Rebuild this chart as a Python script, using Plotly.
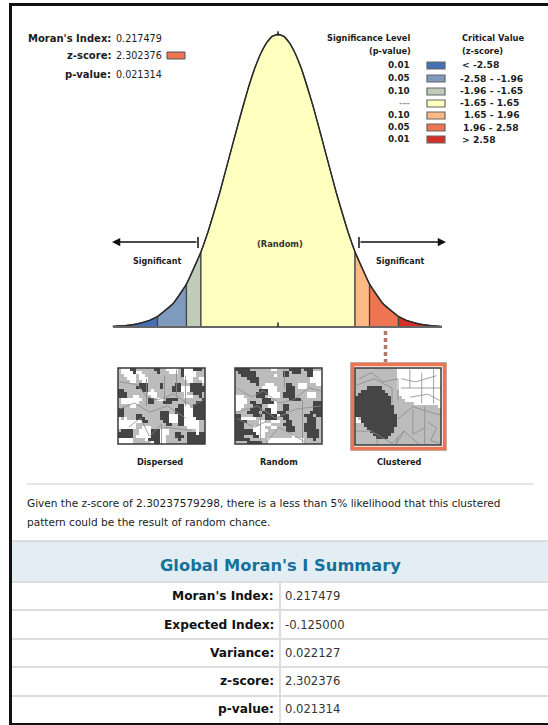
import plotly.graph_objects as go

W, H = 548, 725

# z-score and normal curve height
z_points = [-3.53, -3.25, -3.0, -2.75, -2.58, -2.25, -1.96, -1.65, -1.5, -1.25, -1.0, -0.875, -0.75, -0.625, -0.5, -0.375, -0.25, -0.125, 0.0,
            0.125, 0.25, 0.375, 0.5, 0.625, 0.75, 0.875, 1.0, 1.25, 1.5, 1.65, 1.96, 2.25, 2.58, 2.75, 3.0, 3.25, 3.51]
density = [0.0008, 0.002, 0.0044, 0.0091, 0.0143, 0.0317, 0.0584, 0.1023, 0.1295, 0.1826, 0.242, 0.272, 0.3011, 0.328, 0.3521, 0.372, 0.3867, 0.396, 0.3989,
           0.396, 0.3867, 0.372, 0.3521, 0.328, 0.3011, 0.272, 0.242, 0.1826, 0.1295, 0.1023, 0.0584, 0.0317, 0.0143, 0.0091, 0.0044, 0.002, 0.0008]

band_edges = [-3.53, -2.58, -1.96, -1.65, 1.65, 1.96, 2.58, 3.51]
band_colors = ["#4472b4", "#7f9abd", "#bfccb9", "#ffffbf", "#fdb985", "#ee7551", "#d62f27"]

p_levels = ["0.01", "0.05", "0.10", "---", "0.10", "0.05", "0.01"]
z_ranges = ["< -2.58", "-2.58 - -1.96", "-1.96 - -1.65", "-1.65 - 1.65", "1.65 - 1.96", "1.96 - 2.58", "> 2.58"]

z_score = 2.302376

summary_labels = ["Moran's Index:", "Expected Index:", "Variance:", "z-score:", "p-value:"]
summary_values = ["0.217479", "-0.125000", "0.022127", "2.302376", "0.021314"]

map_titles = ["Dispersed", "Random", "Clustered"]

# thumbnails: . white, g grey, # dark
map_dispersed = [
    "g...##gggggg##gg....g#...###g",
    "g....#..ggggg#ggg...g#....ggg",
    "gg....g..gggggggggggg#....ggg",
    "ggg...g...gggggggggggg...gg..",
    "gggg..gg..ggggggggggggg..ggg.",
    "ggggggg###gggg#gggg##ggg####g",
    "gggggg####gggg#ggg###...#####",
    "##gggggg##g.gggggg###...#####",
    "###ggggggg...ggggggggg.gg###g",
    "###gg..gggg..ggggggggg...gg#g",
    "g.......gg##g..g####gggggggg#",
    "g......ggg##ggg###gggggggg###",
    "gggg..gggggggggggggg##..g####",
    "##ggggggggggggggggg###...####",
    "##gggggggggggg###gg###...####",
    "##gggg##gggggg###...##...####",
    ".g.ggg###ggggg###...##....###",
    "........##ggggg##...##.....gg",
    "......gggggggggg##gg##.....gg",
    "......gg...gggggggggggg....gg",
    "g####gg....###...ggggggggg.gg",
    "#####gg....###...gg##gg###.##",
    "#####g.....###..ggg###g######",
    ".....gggg.####..gggg#gg######",
    ".....gggggg.##..ggggggg######",
]
map_random = [
    "#####ggggggg..gggg####g###ggg",
    "g######ggggggggg##g###gg##...",
    "gg#####gggggg.gg##gggggg##...",
    "gggg####ggggggggggggggggg....",
    "ggggg###ggggggggggggggggg....",
    "ggggggg#gg...gggg##gg...ggg..",
    "ggggggggg.....ggg###g...ggggg",
    "gggggggg###...ggg###ggggggggg",
    "ggggggg####....g####gggg...gg",
    "...gggg###g....g####gggg...gg",
    "....ggggg###gggggg####ggggggg",
    "....g##gg####.gggggggggggg###",
    "...ggg###gg...gg##gggggggg###",
    "..ggg####g##..gg##gggggggg###",
    "gggg####g###..###gggggggg####",
    "##gggg###g####.###ggggg###g##",
    "##.....ggg####gg##gggggg###gg",
    "####gggg..gg...gg##ggggg###gg",
    "###ggggg....gggg###gggg####gg",
    "###ggg....gg..ggg###ggg####gg",
    "######.....gggggg###ggg#####g",
    "#######...gggggggggggggg####g",
    "###ggg##..ggggggggg.gggg####g",
    "#####gggggg............ggg#gg",
    "gggg#####gg............gggggg",
]
map_clustered = [
    "gggggggggggggg...............",
    "gggggggggggggg...............",
    "gggggggggggggg...............",
    "gggggggggggggg...............",
    "gggggggggggggg...............",
    "gggggggggggggg...............",
    "gggg#####ggggg...............",
    "gg########ggggg..............",
    "g##########gggg..............",
    "############gggg.............",
    "############ggggg............",
    "############gggggggg.........",
    "#############ggggggggggggggg.",
    "#############gggggggggggggggg",
    "#############gggggggggggggggg",
    "##############ggggggggggggggg",
    ".g############ggggggggggggggg",
    "..############ggggggggggggggg",
    "ggg###########ggggggggggggggg",
    "gggg#########gggggggggggggggg",
    "ggggg########gggggggggggggggg",
    "gggggg######ggggggggggggggggg",
    "ggggggg####gggggggggggggggggg",
    "ggggggggggggggggggggggggggggg",
    "ggggggggggggggggggggggggggggg",
]

# boundaries drawn over the thumbnails, in cell units
lines_dispersed = [
    ([0, 6, 9, 13, 18, 24, 28], [4, 5, 9, 10, 8, 12, 10]),
    ([0, 5, 10, 16, 22], [13, 11, 14, 12, 16]),
    ([9, 9, None, 15, 15, None, 19, 19, None, 22, 22], [3, 12, None, 2, 10, None, 0, 9, None, 2, 12]),
    ([3, 7, 10, 14, 14, None, 15, 24], [19, 16, 22, 18, 25, None, 19, 20]),
]
lines_random = [
    ([0, 5, 9, 14, 19, 24, 28], [6, 9, 7, 11, 10, 6, 7]),
    ([0, 7, 13, 20, 28], [14, 12, 16, 13, 12]),
    ([22, 22, None, 16, 16, None, 8, 8], [10, 25, None, 0, 6, None, 13, 24]),
    ([10, 14, 18, 23, None, 0, 6, 10], [24, 19, 21, 24, None, 16, 19, 17]),
]
lines_clustered = [
    ([1, 5, 9, 14, 14], [3, 1, 4, 3, 10]),
    ([0, 6, 12, 12], [5, 3, 6, 11]),
    ([15, 20, 27, None, 15, 29, None, 18, 24, 28], [3, 4, 2, None, 6, 6, None, 9, 8, 10]),
    ([18, 18, None, 22, 22, None, 23, 23, None, 26, 26], [0, 6, None, 1, 11, None, 12, 25, None, 0, 11]),
    ([14, 19, 22, 29, None, 19, 19, 23, None, 24, 27, 25, 28], [16, 12, 13, 15, None, 13, 21, 19, None, 17, 19, 23, 24]),
    ([0, 5, 12, 16, 22, None, 16, 13, 14, None, 7, 7], [20, 20, 24, 20, 25, None, 20, 25, 22, None, 22, 25]),
]


def xp(px):
    return px / W


def yp(py):
    return 1 - py / H


# curve axis: z = 0 sits at x = 278 px, 46.7 px per z unit; baseline at y = 327 px, 734 px per density unit
x_range = [-278 / 46.7, (W - 278) / 46.7]
y_range = [-(H - 327) / 734, 327 / 734]

fig = go.Figure()

# filled bands under the curve
for i, color in enumerate(band_colors):
    band_z = [z for z in z_points if band_edges[i] <= z <= band_edges[i + 1]]
    band_d = [d for z, d in zip(z_points, density) if band_edges[i] <= z <= band_edges[i + 1]]
    fig.add_trace(go.Scatter(x=[band_z[0]] + band_z + [band_z[-1]], y=[0] + band_d + [0],
                             fill="toself", fillcolor=color, mode="lines",
                             line=dict(color="#444444", width=1.2),
                             hoverinfo="skip", showlegend=False))

fig.add_trace(go.Scatter(x=z_points, y=density, mode="lines",
                         line=dict(color="#2a2a2a", width=1.4, shape="spline", smoothing=0.5),
                         hoverinfo="skip", showlegend=False))

# baseline, with small ticks at the centre
fig.add_trace(go.Scatter(x=[z_points[0], z_points[-1]], y=[0, 0], mode="lines",
                         line=dict(color="#666666", width=2), hoverinfo="skip", showlegend=False))
fig.add_trace(go.Scatter(x=[0, 0], y=[0, 0.006], mode="lines",
                         line=dict(color="#222222", width=1.5), hoverinfo="skip", showlegend=False))
fig.add_trace(go.Scatter(x=[0, 0], y=[0.3965, 0.403], mode="lines",
                         line=dict(color="#222222", width=1.5), hoverinfo="skip", showlegend=False))

shapes = []
annotations = []


def label(px, py, text, size=9, bold=False, anchor="left", color="#1c1c1c"):
    t = "<b>" + text + "</b>" if bold else text
    shift = {"left": -2, "right": 2, "center": 0}[anchor]
    annotations.append(dict(x=xp(px), y=yp(py), xref="paper", yref="paper", text=t, showarrow=False,
                            xanchor=anchor, yanchor="middle", xshift=shift,
                            font=dict(family="DejaVu Sans", size=size, color=color)))


def rect(x0, y0, x1, y1, fill, line_color=None, line_width=0):
    shapes.append(dict(type="rect", xref="paper", yref="paper", x0=xp(x0), x1=xp(x1), y0=yp(y0), y1=yp(y1),
                       fillcolor=fill, line=dict(color=line_color, width=line_width) if line_color else dict(width=0)))


def hline(x0, x1, py, color, width=1):
    shapes.append(dict(type="line", xref="paper", yref="paper", x0=xp(x0), x1=xp(x1), y0=yp(py), y1=yp(py),
                       line=dict(color=color, width=width)))


def vline(px, y0, y1, color, width=1):
    shapes.append(dict(type="line", xref="paper", yref="paper", x0=xp(px), x1=xp(px), y0=yp(y0), y1=yp(y1),
                       line=dict(color=color, width=width)))


# outer frame
rect(9, 3, W, 6, "#111111")
rect(9, 3, 12, H, "#111111")
rect(9, 723, W, H, "#111111")

# top left readout
readout_labels = ["Moran's Index:", "z-score:", "p-value:"]
readout_values = [summary_values[0], summary_values[3], summary_values[4]]
for lab, val, py in zip(readout_labels, readout_values, [38, 56, 75]):
    label(111, py, lab, size=10, bold=True, anchor="right")
    label(116, py, val, size=9.6)
rect(167, 52, 185, 59, band_colors[5], "#555555", 1)

# legend
label(410, 38, "Significance Level", size=8.2, bold=True, anchor="right")
label(411, 51, "(p-value)", size=8.2, bold=True, anchor="right")
label(462, 38, "Critical Value", size=8.3, bold=True)
label(462, 51, "(z-score)", size=8.3, bold=True)
legend_rows = [65, 78, 91, 103, 115, 127, 139]
range_left = [462, 460, 460, 460, 464, 463, 462]
for lev, rng, color, py, left in zip(p_levels, z_ranges, band_colors, legend_rows, range_left):
    label(410, py, lev, size=8.8, bold=True, anchor="right", color="#999999" if lev == "---" else "#1c1c1c")
    label(left, py, rng, size=9.2, bold=True)
    rect(427, py - 3, 445, py + 4, color, "#666666", 1.2)

# arrows and curve labels
annotations.append(dict(x=xp(112), y=yp(242), ax=86, ay=0, xref="paper", yref="paper", axref="pixel", ayref="pixel",
                        text="", showarrow=True, arrowhead=2, arrowsize=1.1, arrowwidth=1.5, arrowcolor="#111111"))
annotations.append(dict(x=xp(446), y=yp(242), ax=-87, ay=0, xref="paper", yref="paper", axref="pixel", ayref="pixel",
                        text="", showarrow=True, arrowhead=2, arrowsize=1.1, arrowwidth=1.5, arrowcolor="#111111"))
vline(198, 237, 248, "#111111", 1.5)
vline(359, 237, 248, "#111111", 1.5)
label(157, 261, "Significant", size=8, bold=True, anchor="center")
label(400, 261, "Significant", size=8, bold=True, anchor="center")
label(280, 244, "(Random)", size=8.3, bold=True, anchor="center", color="#333333")

# dotted drop line from the observed z-score
shapes.append(dict(type="line", xref="x", yref="paper", x0=z_score, x1=z_score, y0=yp(331), y1=yp(364),
                   line=dict(color="#b5766a", width=3.5, dash="4px,3px")))

# thumbnails as small heatmaps on their own axes
map_rows = [map_dispersed, map_random, map_clustered]
map_lines = [lines_dispersed, lines_random, lines_clustered]
map_boxes = [(118, 368, 205, 444), (235, 368, 322, 444), (355, 368, 441, 445)]
levels = {".": 0, "g": 1, "#": 2}
map_layout = {}

# orange selection frame round the clustered map
rect(350.5, 362.5, 446.5, 450.5, "rgba(0,0,0,0)", "#bbbbbb", 1)
rect(352.5, 364.5, 444.5, 448.5, "rgba(0,0,0,0)", "#ee7551", 3.5)

for i, (rows, polylines, box) in enumerate(zip(map_rows, map_lines, map_boxes)):
    n = i + 2
    z = [[levels[c] for c in row] for row in rows]
    fig.add_trace(go.Heatmap(z=z, xaxis=f"x{n}", yaxis=f"y{n}", zmin=0, zmax=2, showscale=False, hoverinfo="skip",
                             colorscale=[[0, "#ffffff"], [0.5, "#bcbcbc"], [1, "#454545"]]))
    for lx, ly in polylines:
        fig.add_trace(go.Scatter(x=lx, y=ly, xaxis=f"x{n}", yaxis=f"y{n}", mode="lines",
                                 line=dict(color="#8a8a8a", width=0.8), hoverinfo="skip", showlegend=False))
    map_layout[f"xaxis{n}"] = dict(domain=[xp(box[0]), xp(box[2])], range=[-0.5, 28.5], visible=False, anchor=f"y{n}")
    map_layout[f"yaxis{n}"] = dict(domain=[yp(box[3]), yp(box[1])], range=[24.5, -0.5], visible=False, anchor=f"x{n}")
    rect(box[0], box[1], box[2], box[3], "rgba(0,0,0,0)", "#3a3a3a", 1.5)
    label([160, 279, 399][i], 462, map_titles[i], size=8.2, bold=True, anchor="center")

# message under the graphic
hline(27, 534, 484, "#cccccc", 1)
label(27, 503, "Given the z-score of 2.30237579298, there is a less than 5% likelihood that this clustered", size=10.55)
label(27, 522, "pattern could be the result of random chance.", size=10.55)

# summary table
rect(12, 541, W, 582, "#e3eef4")
hline(12, W, 541, "#d4d4d4", 1.5)
label(280, 565, "Global Moran's I Summary", size=16.3, bold=True, anchor="center", color="#16719b")
for py in [582, 610, 639, 667, 696]:
    hline(12, W, py, "#dddddd", 2)
vline(280, 582, 723, "#dddddd", 2)
for lab, val, py in zip(summary_labels, summary_values, [596, 625, 653, 681, 709]):
    label(274, py, lab, size=12.2, bold=True, anchor="right", color="#111111")
    label(285, py, val, size=11.6, color="#333333")

fig.update_layout(
    width=W, height=H, autosize=False,
    margin=dict(l=0, r=0, t=0, b=0),
    paper_bgcolor="#ffffff", plot_bgcolor="rgba(0,0,0,0)",
    showlegend=False,
    xaxis=dict(domain=[0, 1], range=x_range, visible=False),
    yaxis=dict(domain=[0, 1], range=y_range, visible=False),
    shapes=shapes, annotations=annotations,
    **map_layout,
)

fig.write_html("out.html", config={"displayModeBar": False}, post_script="document.body.style.margin='0';")
